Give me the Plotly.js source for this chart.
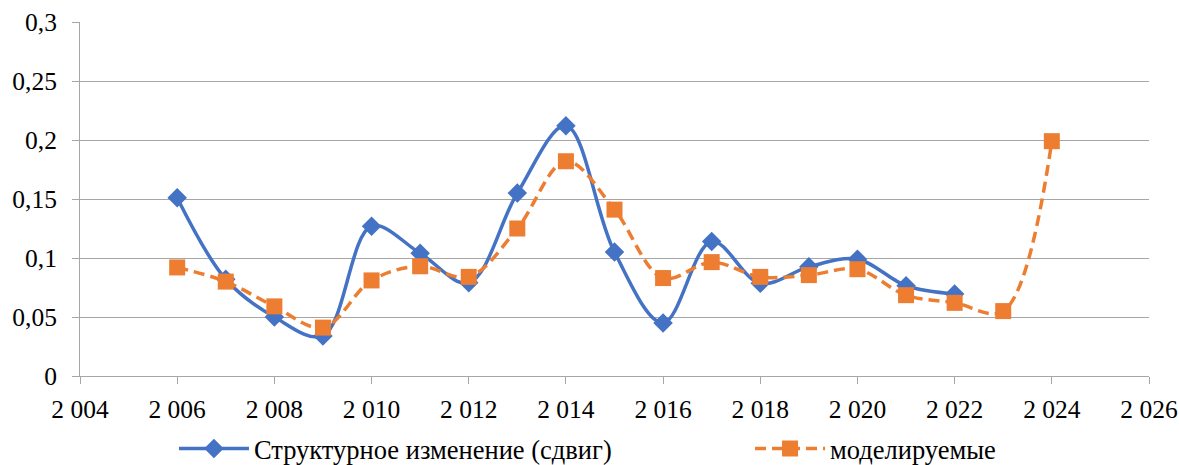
<!DOCTYPE html>
<html>
<head>
<meta charset="utf-8">
<script src="https://cdn.plot.ly/plotly-3.0.1.min.js"></script>
<style>html,body{margin:0;padding:0;background:#fff;}#chart{width:1179px;height:465px;}</style>
</head>
<body>
<div id="chart"></div>
<script>
const years = [2006, 2007, 2008, 2009, 2010, 2011, 2012, 2013, 2014, 2015, 2016, 2017, 2018, 2019, 2020, 2021, 2022, 2023, 2024];
const structuralShift = [0.151, 0.082, 0.050, 0.034, 0.127, 0.104, 0.079, 0.155, 0.212, 0.105, 0.045, 0.114, 0.0785, 0.0925, 0.099, 0.0765, 0.0695, null, null];
const modeled = [0.092, 0.080, 0.059, 0.041, 0.081, 0.093, 0.084, 0.125, 0.182, 0.141, 0.083, 0.0965, 0.084, 0.0855, 0.0905, 0.0685, 0.062, 0.055, 0.199];
const seriesNames = ['Структурное изменение (сдвиг)', 'моделируемые'];

const fam = 'Liberation Serif, Times New Roman, serif';

const traces = [
  {
    x: years, y: structuralShift, name: seriesNames[0], type: 'scatter', mode: 'lines+markers',
    line: {color: '#4472C4', width: 3.5, shape: 'spline', smoothing: 1},
    marker: {symbol: 'diamond', size: 15, color: '#4472C4'},
    connectgaps: false, legend: 'legend'
  },
  {
    x: years, y: modeled, name: seriesNames[1], type: 'scatter', mode: 'lines+markers',
    line: {color: '#ED7D31', width: 3.5, shape: 'spline', smoothing: 1, dash: '11px,6px'},
    marker: {symbol: 'square', size: 16, color: '#ED7D31'},
    legend: 'legend2'
  }
];

const legendCommon = {
  orientation: 'h', xanchor: 'left', xref: 'paper',
  yref: 'container', y: 0.035, yanchor: 'middle',
  font: {family: fam, size: 26.5, color: '#000'},
  itemwidth: 70, bgcolor: 'rgba(0,0,0,0)'
};

const layout = {
  width: 1179, height: 465,
  margin: {l: 80, r: 30, t: 22, b: 89},
  paper_bgcolor: '#fff', plot_bgcolor: '#fff',
  separators: ', ',
  font: {family: fam, size: 25, color: '#000'},
  showlegend: true,
  legend: Object.assign({x: 0.0879}, legendCommon),
  legend2: Object.assign({x: 0.6268}, legendCommon),
  xaxis: {
    range: [2004, 2026], dtick: 2, tick0: 2004, separatethousands: true,
    showgrid: false, zeroline: false, showline: true, linecolor: '#a6a6a6', linewidth: 1,
    ticks: 'outside', ticklen: 7, tickcolor: '#a6a6a6', ticklabelstandoff: 3,
    tickfont: {family: fam, size: 25.5, color: '#000'}
  },
  yaxis: {
    range: [0, 0.3], dtick: 0.05, tick0: 0,
    showgrid: true, gridcolor: '#a6a6a6', gridwidth: 1, zeroline: false,
    showline: true, linecolor: '#a6a6a6', linewidth: 1,
    ticks: 'outside', ticklen: 7, tickcolor: '#a6a6a6', ticklabelstandoff: 10,
    tickfont: {family: fam, size: 25.5, color: '#000'}
  }
};

Plotly.newPlot('chart', traces, layout, {displayModeBar: false, staticPlot: true});
</script>
</body>
</html>
